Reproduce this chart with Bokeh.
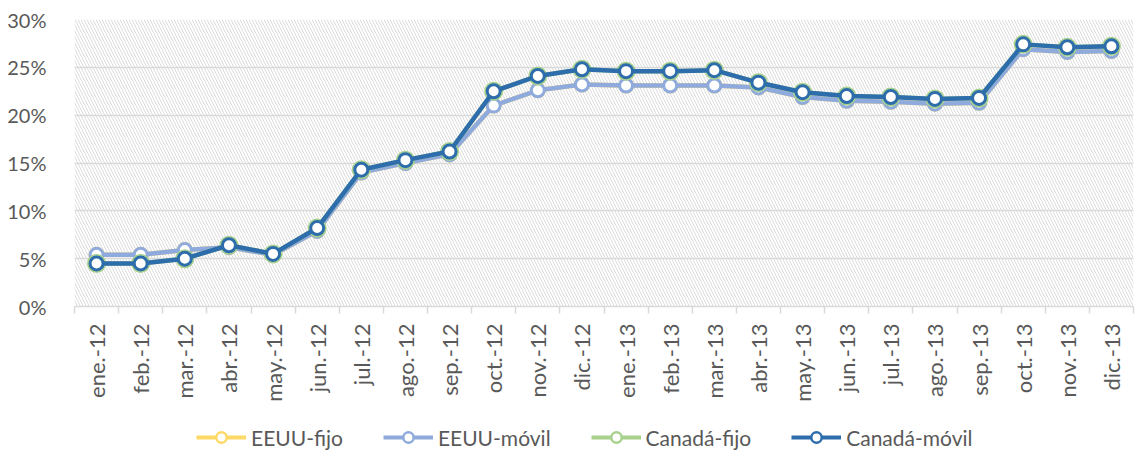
import math
from bokeh.plotting import figure
from bokeh.layouts import column
from bokeh.models import (Range1d, FixedTicker, NumeralTickFormatter, Legend, LegendItem,
                          BoxAnnotation, ColumnDataSource)
from bokeh.embed import file_html
from bokeh.resources import INLINE

months = ["ene.-12", "feb.-12", "mar.-12", "abr.-12", "may.-12", "jun.-12",
          "jul.-12", "ago.-12", "sep.-12", "oct.-12", "nov.-12", "dic.-12",
          "ene.-13", "feb.-13", "mar.-13", "abr.-13", "may.-13", "jun.-13",
          "jul.-13", "ago.-13", "sep.-13", "oct.-13", "nov.-13", "dic.-13"]

eeuu_fijo = [5.4, 5.4, 5.9, 6.2, 5.4, 7.9, 14.0, 15.0, 15.9, 21.0, 22.6, 23.2,
             23.1, 23.1, 23.1, 22.9, 21.9, 21.5, 21.4, 21.2, 21.3, 26.9, 26.6, 26.7]
eeuu_movil = [5.4, 5.4, 5.9, 6.2, 5.4, 7.9, 14.0, 15.0, 15.9, 21.0, 22.6, 23.2,
              23.1, 23.1, 23.1, 22.9, 21.9, 21.5, 21.4, 21.2, 21.3, 26.9, 26.6, 26.7]
canada_fijo = [4.5, 4.5, 5.0, 6.4, 5.5, 8.2, 14.3, 15.3, 16.2, 22.5, 24.1, 24.8,
               24.6, 24.6, 24.7, 23.4, 22.4, 22.0, 21.9, 21.7, 21.8, 27.4, 27.1, 27.2]
canada_movil = [4.5, 4.5, 5.0, 6.4, 5.5, 8.2, 14.3, 15.3, 16.2, 22.5, 24.1, 24.8,
                24.6, 24.6, 24.7, 23.4, 22.4, 22.0, 21.9, 21.7, 21.8, 27.4, 27.1, 27.2]

series_names = ["EEUU-fijo", "EEUU-móvil", "Canadá-fijo", "Canadá-móvil"]
y_ticks = [0, 0.05, 0.10, 0.15, 0.20, 0.25, 0.30]

FONT = "Lato"
TXT = "#595959"
GRID = "#d9d9d9"

xs = [i + 0.5 for i in range(len(months))]

p = figure(width=1135, height=410, output_backend="svg", toolbar_location=None,
           x_range=Range1d(0, len(months)), y_range=Range1d(0, 0.30),
           min_border_left=74, min_border_right=2, min_border_top=19, min_border_bottom=104)
p.outline_line_color = None
p.background_fill_color = "white"

# hatched plot area
p.add_layout(BoxAnnotation(fill_alpha=0, line_alpha=0, hatch_pattern="\\",
                           hatch_color="#dcdcdc", hatch_scale=6, hatch_weight=1,
                           level="underlay"))

# y axis
p.yaxis.ticker = FixedTicker(ticks=y_ticks)
p.yaxis.formatter = NumeralTickFormatter(format="0%")
p.yaxis.axis_line_color = None
p.yaxis.major_tick_line_color = None
p.yaxis.minor_tick_line_color = None
p.yaxis.major_label_standoff = 22
p.yaxis.major_label_text_font = FONT
p.yaxis.major_label_text_font_size = "20px"
p.yaxis.major_label_text_color = TXT

p.ygrid.grid_line_color = GRID
p.ygrid.grid_line_width = 1.5
p.xgrid.grid_line_color = None

# x axis
p.xaxis.ticker = FixedTicker(ticks=xs, minor_ticks=list(range(len(months) + 1)))
p.xaxis.major_label_overrides = {x: m for x, m in zip(xs, months)}
p.xaxis.major_label_orientation = math.pi / 2
p.xaxis.major_tick_out = 0
p.xaxis.major_tick_in = 0
p.xaxis.minor_tick_out = 7
p.xaxis.minor_tick_in = 0
p.xaxis.minor_tick_line_color = GRID
p.xaxis.minor_tick_line_width = 1.5
p.xaxis.axis_line_color = GRID
p.xaxis.axis_line_width = 1.5
p.xaxis.major_label_standoff = 10
p.xaxis.major_label_text_font = FONT
p.xaxis.major_label_text_font_size = "22px"
p.xaxis.major_label_text_color = TXT

colors = ["#FFD966", "#8FAADC", "#A9D18E", "#2E6DAB"]
line_widths = [4.5, 4.5, 4.5, 4.5]
marker_sizes = [13, 13, 15, 13]
marker_lws = [3, 3, 4, 3]
all_series = [eeuu_fijo, eeuu_movil, canada_fijo, canada_movil]

# legend strip (separate figure below the chart); its ranges lie away from the data,
# so its renderers only supply the legend swatches
lg = figure(width=1135, height=40, output_backend="svg", toolbar_location=None,
            x_range=Range1d(100, 101), y_range=Range1d(100, 101),
            x_axis_type=None, y_axis_type=None,
            min_border_left=74, min_border_right=2, min_border_top=0, min_border_bottom=0)
lg.outline_line_color = None
lg.xgrid.visible = False
lg.ygrid.visible = False

items = []
for name, vals, c, lw, ms, mlw in zip(series_names, all_series, colors, line_widths,
                                     marker_sizes, marker_lws):
    src = ColumnDataSource(dict(x=xs, y=[v / 100 for v in vals]))
    p.line("x", "y", source=src, line_color=c, line_width=lw, line_join="round")
    p.scatter("x", "y", source=src, marker="circle", size=ms, fill_color="white",
              line_color=c, line_width=mlw)
    l1 = lg.line("x", "y", source=src, line_color=c, line_width=4)
    l2 = lg.scatter("x", "y", source=src, marker="circle", size=ms, fill_color="white",
                    line_color=c, line_width=2.5)
    items.append(LegendItem(label=name, renderers=[l1, l2]))

legend = Legend(items=items, orientation="horizontal", location=(122, 0),
                glyph_width=50, glyph_height=26, label_standoff=5, spacing=40,
                padding=0, margin=0, border_line_color=None, background_fill_alpha=0,
                label_text_font=FONT, label_text_font_size="21px", label_text_color=TXT,
                label_height=21)
lg.add_layout(legend, "center")

open("out.html", "w").write(file_html(column(p, lg, spacing=0), INLINE))
